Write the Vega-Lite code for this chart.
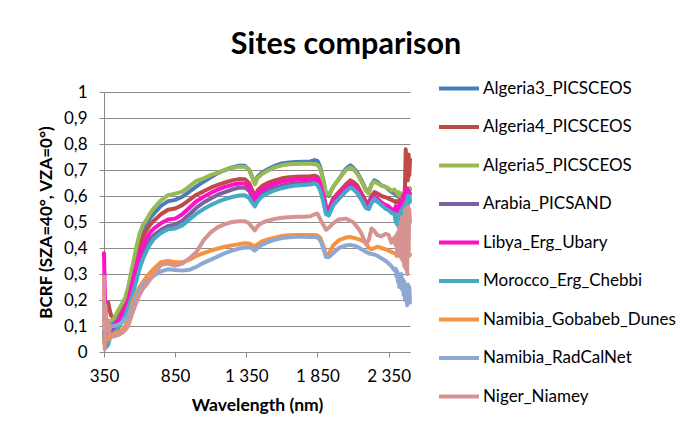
{
  "$schema": "https://vega.github.io/schema/vega-lite/v6.json",
  "width": 306,
  "height": 260,
  "autosize": {"type": "none"},
  "padding": {"left": 104, "top": 92, "right": 279, "bottom": 80},
  "background": "white",
  "title": {"text": "Sites comparison", "font": "Lato", "fontSize": 30.5, "fontWeight": "bold", "color": "#000000", "anchor": "middle", "frame": "group", "dx": 89, "dy": 28, "offset": 10, "baseline": "alphabetic"},
  "datasets": {
    "sites": [
      {"key": "a3", "site": "Algeria3_PICSCEOS"},
      {"key": "a4", "site": "Algeria4_PICSCEOS"},
      {"key": "a5", "site": "Algeria5_PICSCEOS"},
      {"key": "ar", "site": "Arabia_PICSAND"},
      {"key": "ly", "site": "Libya_Erg_Ubary"},
      {"key": "mo", "site": "Morocco_Erg_Chebbi"},
      {"key": "ng", "site": "Namibia_Gobabeb_Dunes"},
      {"key": "nr", "site": "Namibia_RadCalNet"},
      {"key": "ni", "site": "Niger_Niamey"}
    ],
    "spectra": [
      {"w":350,"a3":0.08,"a4":0.12,"a5":0.10,"ar":0.07,"ly":0.38,"mo":0.06,"ng":0.05,"nr":0.20,"ni":0.29},
      {"w":355,"a3":0.07,"a4":0.14,"a5":0.09,"ar":0.05,"ly":0.25,"mo":0.03,"ng":0.03,"nr":0.10,"ni":0.01},
      {"w":360,"a3":0.09,"a4":0.15,"a5":0.10,"ar":0.06,"ly":0.15,"mo":0.04,"ng":0.06,"nr":0.14,"ni":0.18},
      {"w":370,"a3":0.10,"a4":0.18,"a5":0.11,"ar":0.07,"ly":0.11,"mo":0.02,"ng":0.05,"nr":0.08,"ni":0.10},
      {"w":380,"a3":0.10,"a4":0.19,"a5":0.11,"ar":0.08,"ly":0.10,"mo":0.03,"ng":0.06,"nr":0.10,"ni":0.12},
      {"w":390,"a3":0.11,"a4":0.16,"a5":0.12,"ar":0.08,"ly":0.09,"mo":0.05,"ng":0.05,"nr":0.09,"ni":0.07},
      {"w":400,"a3":0.11,"a4":0.14,"a5":0.12,"ar":0.08,"ly":0.09,"mo":0.06,"ng":0.06,"nr":0.10,"ni":0.06},
      {"w":420,"a3":0.12,"a4":0.13,"a5":0.13,"ar":0.09,"ly":0.10,"mo":0.07,"ng":0.07,"nr":0.10,"ni":0.06},
      {"w":450,"a3":0.15,"a4":0.15,"a5":0.16,"ar":0.11,"ly":0.12,"mo":0.09,"ng":0.075,"nr":0.105,"ni":0.065},
      {"w":480,"a3":0.18,"a4":0.17,"a5":0.19,"ar":0.13,"ly":0.15,"mo":0.12,"ng":0.085,"nr":0.115,"ni":0.075},
      {"w":500,"a3":0.20,"a4":0.19,"a5":0.21,"ar":0.15,"ly":0.17,"mo":0.14,"ng":0.10,"nr":0.125,"ni":0.085},
      {"w":520,"a3":0.24,"a4":0.23,"a5":0.25,"ar":0.19,"ly":0.20,"mo":0.17,"ng":0.13,"nr":0.14,"ni":0.10},
      {"w":550,"a3":0.31,"a4":0.30,"a5":0.33,"ar":0.24,"ly":0.27,"mo":0.22,"ng":0.19,"nr":0.17,"ni":0.15},
      {"w":580,"a3":0.39,"a4":0.37,"a5":0.41,"ar":0.31,"ly":0.34,"mo":0.28,"ng":0.23,"nr":0.215,"ni":0.195},
      {"w":600,"a3":0.43,"a4":0.41,"a5":0.455,"ar":0.34,"ly":0.375,"mo":0.32,"ng":0.25,"nr":0.24,"ni":0.22},
      {"w":625,"a3":0.47,"a4":0.445,"a5":0.49,"ar":0.38,"ly":0.41,"mo":0.36,"ng":0.27,"nr":0.26,"ni":0.245},
      {"w":650,"a3":0.495,"a4":0.47,"a5":0.51,"ar":0.41,"ly":0.44,"mo":0.39,"ng":0.29,"nr":0.272,"ni":0.26},
      {"w":675,"a3":0.515,"a4":0.49,"a5":0.535,"ar":0.435,"ly":0.46,"mo":0.415,"ng":0.305,"nr":0.283,"ni":0.28},
      {"w":700,"a3":0.532,"a4":0.505,"a5":0.553,"ar":0.45,"ly":0.475,"mo":0.435,"ng":0.32,"nr":0.293,"ni":0.30},
      {"w":750,"a3":0.562,"a4":0.53,"a5":0.583,"ar":0.47,"ly":0.495,"mo":0.458,"ng":0.345,"nr":0.31,"ni":0.335},
      {"w":800,"a3":0.58,"a4":0.547,"a5":0.603,"ar":0.485,"ly":0.51,"mo":0.472,"ng":0.35,"nr":0.318,"ni":0.34},
      {"w":850,"a3":0.585,"a4":0.552,"a5":0.609,"ar":0.49,"ly":0.513,"mo":0.475,"ng":0.345,"nr":0.315,"ni":0.332},
      {"w":900,"a3":0.597,"a4":0.565,"a5":0.617,"ar":0.505,"ly":0.53,"mo":0.487,"ng":0.345,"nr":0.313,"ni":0.34},
      {"w":950,"a3":0.617,"a4":0.585,"a5":0.637,"ar":0.53,"ly":0.555,"mo":0.51,"ng":0.355,"nr":0.316,"ni":0.36},
      {"w":1000,"a3":0.637,"a4":0.605,"a5":0.658,"ar":0.555,"ly":0.58,"mo":0.532,"ng":0.37,"nr":0.328,"ni":0.385},
      {"w":1050,"a3":0.655,"a4":0.618,"a5":0.668,"ar":0.575,"ly":0.597,"mo":0.55,"ng":0.38,"nr":0.343,"ni":0.43},
      {"w":1100,"a3":0.672,"a4":0.632,"a5":0.68,"ar":0.59,"ly":0.612,"mo":0.565,"ng":0.39,"nr":0.355,"ni":0.46},
      {"w":1150,"a3":0.688,"a4":0.643,"a5":0.69,"ar":0.605,"ly":0.625,"mo":0.578,"ng":0.398,"nr":0.368,"ni":0.48},
      {"w":1200,"a3":0.70,"a4":0.652,"a5":0.70,"ar":0.615,"ly":0.635,"mo":0.588,"ng":0.405,"nr":0.38,"ni":0.492},
      {"w":1250,"a3":0.71,"a4":0.66,"a5":0.708,"ar":0.625,"ly":0.643,"mo":0.596,"ng":0.41,"nr":0.39,"ni":0.50},
      {"w":1300,"a3":0.717,"a4":0.665,"a5":0.713,"ar":0.632,"ly":0.648,"mo":0.602,"ng":0.415,"nr":0.398,"ni":0.503},
      {"w":1340,"a3":0.716,"a4":0.664,"a5":0.712,"ar":0.632,"ly":0.648,"mo":0.603,"ng":0.418,"nr":0.402,"ni":0.503},
      {"w":1370,"a3":0.70,"a4":0.65,"a5":0.70,"ar":0.62,"ly":0.635,"mo":0.592,"ng":0.417,"nr":0.403,"ni":0.495},
      {"w":1390,"a3":0.675,"a4":0.625,"a5":0.675,"ar":0.595,"ly":0.61,"mo":0.575,"ng":0.412,"nr":0.398,"ni":0.48},
      {"w":1410,"a3":0.648,"a4":0.598,"a5":0.645,"ar":0.57,"ly":0.585,"mo":0.56,"ng":0.406,"nr":0.39,"ni":0.468},
      {"w":1430,"a3":0.675,"a4":0.622,"a5":0.67,"ar":0.595,"ly":0.61,"mo":0.58,"ng":0.415,"nr":0.40,"ni":0.485},
      {"w":1460,"a3":0.69,"a4":0.638,"a5":0.685,"ar":0.61,"ly":0.625,"mo":0.598,"ng":0.425,"nr":0.412,"ni":0.497},
      {"w":1500,"a3":0.703,"a4":0.65,"a5":0.697,"ar":0.622,"ly":0.637,"mo":0.61,"ng":0.433,"nr":0.422,"ni":0.505},
      {"w":1550,"a3":0.716,"a4":0.66,"a5":0.71,"ar":0.633,"ly":0.648,"mo":0.622,"ng":0.44,"nr":0.432,"ni":0.512},
      {"w":1600,"a3":0.725,"a4":0.668,"a5":0.718,"ar":0.64,"ly":0.655,"mo":0.63,"ng":0.446,"nr":0.438,"ni":0.516},
      {"w":1650,"a3":0.729,"a4":0.672,"a5":0.722,"ar":0.645,"ly":0.66,"mo":0.636,"ng":0.449,"nr":0.441,"ni":0.518},
      {"w":1700,"a3":0.731,"a4":0.674,"a5":0.723,"ar":0.648,"ly":0.662,"mo":0.64,"ng":0.45,"nr":0.443,"ni":0.52},
      {"w":1750,"a3":0.732,"a4":0.675,"a5":0.724,"ar":0.65,"ly":0.664,"mo":0.642,"ng":0.45,"nr":0.443,"ni":0.52},
      {"w":1800,"a3":0.733,"a4":0.676,"a5":0.724,"ar":0.652,"ly":0.665,"mo":0.644,"ng":0.45,"nr":0.442,"ni":0.522},
      {"w":1830,"a3":0.738,"a4":0.678,"a5":0.722,"ar":0.655,"ly":0.668,"mo":0.648,"ng":0.45,"nr":0.442,"ni":0.53},
      {"w":1850,"a3":0.735,"a4":0.674,"a5":0.72,"ar":0.652,"ly":0.665,"mo":0.642,"ng":0.448,"nr":0.44,"ni":0.532},
      {"w":1870,"a3":0.71,"a4":0.655,"a5":0.705,"ar":0.63,"ly":0.645,"mo":0.62,"ng":0.44,"nr":0.43,"ni":0.51},
      {"w":1890,"a3":0.665,"a4":0.615,"a5":0.66,"ar":0.59,"ly":0.605,"mo":0.58,"ng":0.41,"nr":0.40,"ni":0.49},
      {"w":1910,"a3":0.605,"a4":0.56,"a5":0.61,"ar":0.535,"ly":0.55,"mo":0.53,"ng":0.375,"nr":0.365,"ni":0.47},
      {"w":1930,"a3":0.60,"a4":0.55,"a5":0.605,"ar":0.53,"ly":0.54,"mo":0.525,"ng":0.378,"nr":0.365,"ni":0.478},
      {"w":1960,"a3":0.635,"a4":0.59,"a5":0.635,"ar":0.565,"ly":0.58,"mo":0.565,"ng":0.41,"nr":0.38,"ni":0.495},
      {"w":2000,"a3":0.665,"a4":0.615,"a5":0.665,"ar":0.59,"ly":0.605,"mo":0.59,"ng":0.43,"nr":0.40,"ni":0.51},
      {"w":2050,"a3":0.705,"a4":0.645,"a5":0.70,"ar":0.62,"ly":0.632,"mo":0.618,"ng":0.44,"nr":0.41,"ni":0.513},
      {"w":2080,"a3":0.718,"a4":0.66,"a5":0.71,"ar":0.632,"ly":0.645,"mo":0.632,"ng":0.442,"nr":0.412,"ni":0.505},
      {"w":2100,"a3":0.71,"a4":0.655,"a5":0.705,"ar":0.628,"ly":0.64,"mo":0.628,"ng":0.44,"nr":0.41,"ni":0.50},
      {"w":2130,"a3":0.69,"a4":0.64,"a5":0.685,"ar":0.612,"ly":0.625,"mo":0.612,"ng":0.435,"nr":0.405,"ni":0.48},
      {"w":2160,"a3":0.66,"a4":0.61,"a5":0.655,"ar":0.585,"ly":0.595,"mo":0.585,"ng":0.43,"nr":0.395,"ni":0.455},
      {"w":2190,"a3":0.625,"a4":0.58,"a5":0.62,"ar":0.555,"ly":0.565,"mo":0.555,"ng":0.42,"nr":0.385,"ni":0.415},
      {"w":2210,"a3":0.615,"a4":0.575,"a5":0.61,"ar":0.55,"ly":0.56,"mo":0.55,"ng":0.40,"nr":0.38,"ni":0.43},
      {"w":2230,"a3":0.645,"a4":0.60,"a5":0.645,"ar":0.575,"ly":0.59,"mo":0.575,"ng":0.395,"nr":0.377,"ni":0.475},
      {"w":2250,"a3":0.66,"a4":0.615,"a5":0.655,"ar":0.585,"ly":0.60,"mo":0.59,"ng":0.40,"nr":0.375,"ni":0.465},
      {"w":2270,"a3":0.655,"a4":0.61,"a5":0.65,"ar":0.58,"ly":0.59,"mo":0.58,"ng":0.405,"nr":0.37,"ni":0.45},
      {"w":2300,"a3":0.64,"a4":0.60,"a5":0.64,"ar":0.565,"ly":0.575,"mo":0.565,"ng":0.40,"nr":0.36,"ni":0.445},
      {"w":2330,"a3":0.635,"a4":0.595,"a5":0.635,"ar":0.555,"ly":0.565,"mo":0.55,"ng":0.395,"nr":0.35,"ni":0.455},
      {"w":2350,"a3":0.625,"a4":0.59,"a5":0.63,"ar":0.55,"ly":0.56,"mo":0.545,"ng":0.39,"nr":0.34,"ni":0.45},
      {"w":2370,"a3":0.615,"a4":0.585,"a5":0.62,"ar":0.54,"ly":0.55,"mo":0.535,"ng":0.385,"nr":0.33,"ni":0.42},
      {"w":2390,"a3":0.61,"a4":0.58,"a5":0.625,"ar":0.535,"ly":0.545,"mo":0.53,"ng":0.38,"nr":0.315,"ni":0.44},
      {"w":2400,"a3":0.605,"a4":0.575,"a5":0.615,"ar":0.53,"ly":0.56,"mo":0.50,"ng":0.378,"nr":0.32,"ni":0.41},
      {"w":2405,"a3":0.61,"a4":0.58,"a5":0.61,"ar":0.52,"ly":0.52,"mo":0.53,"ng":0.37,"nr":0.29,"ni":0.45},
      {"w":2410,"a3":0.60,"a4":0.575,"a5":0.615,"ar":0.515,"ly":0.55,"mo":0.49,"ng":0.38,"nr":0.31,"ni":0.38},
      {"w":2415,"a3":0.605,"a4":0.58,"a5":0.605,"ar":0.51,"ly":0.50,"mo":0.52,"ng":0.37,"nr":0.27,"ni":0.46},
      {"w":2420,"a3":0.60,"a4":0.575,"a5":0.615,"ar":0.52,"ly":0.56,"mo":0.48,"ng":0.375,"nr":0.30,"ni":0.40},
      {"w":2425,"a3":0.61,"a4":0.585,"a5":0.605,"ar":0.525,"ly":0.53,"mo":0.53,"ng":0.37,"nr":0.25,"ni":0.48},
      {"w":2430,"a3":0.595,"a4":0.57,"a5":0.60,"ar":0.53,"ly":0.57,"mo":0.50,"ng":0.38,"nr":0.29,"ni":0.37},
      {"w":2435,"a3":0.60,"a4":0.58,"a5":0.61,"ar":0.535,"ly":0.54,"mo":0.54,"ng":0.37,"nr":0.26,"ni":0.50},
      {"w":2440,"a3":0.60,"a4":0.58,"a5":0.61,"ar":0.54,"ly":0.58,"mo":0.50,"ng":0.375,"nr":0.30,"ni":0.36},
      {"w":2445,"a3":0.595,"a4":0.575,"a5":0.605,"ar":0.545,"ly":0.56,"mo":0.55,"ng":0.37,"nr":0.24,"ni":0.52},
      {"w":2450,"a3":0.60,"a4":0.575,"a5":0.605,"ar":0.55,"ly":0.60,"mo":0.52,"ng":0.38,"nr":0.28,"ni":0.35},
      {"w":2455,"a3":0.60,"a4":0.58,"a5":0.60,"ar":0.55,"ly":0.57,"mo":0.56,"ng":0.37,"nr":0.22,"ni":0.50},
      {"w":2460,"a3":0.60,"a4":0.60,"a5":0.60,"ar":0.56,"ly":0.61,"mo":0.53,"ng":0.375,"nr":0.27,"ni":0.33},
      {"w":2465,"a3":0.605,"a4":0.64,"a5":0.61,"ar":0.56,"ly":0.58,"mo":0.57,"ng":0.37,"nr":0.20,"ni":0.55},
      {"w":2470,"a3":0.61,"a4":0.78,"a5":0.61,"ar":0.57,"ly":0.62,"mo":0.54,"ng":0.38,"nr":0.26,"ni":0.32},
      {"w":2475,"a3":0.61,"a4":0.70,"a5":0.615,"ar":0.57,"ly":0.59,"mo":0.58,"ng":0.37,"nr":0.23,"ni":0.54},
      {"w":2480,"a3":0.615,"a4":0.75,"a5":0.615,"ar":0.575,"ly":0.63,"mo":0.56,"ng":0.375,"nr":0.18,"ni":0.30},
      {"w":2485,"a3":0.615,"a4":0.66,"a5":0.62,"ar":0.575,"ly":0.60,"mo":0.60,"ng":0.37,"nr":0.26,"ni":0.56},
      {"w":2490,"a3":0.62,"a4":0.76,"a5":0.625,"ar":0.58,"ly":0.62,"mo":0.57,"ng":0.38,"nr":0.20,"ni":0.38},
      {"w":2495,"a3":0.62,"a4":0.68,"a5":0.625,"ar":0.58,"ly":0.60,"mo":0.60,"ng":0.37,"nr":0.25,"ni":0.55},
      {"w":2500,"a3":0.625,"a4":0.74,"a5":0.63,"ar":0.58,"ly":0.61,"mo":0.58,"ng":0.375,"nr":0.19,"ni":0.50}
    ]
  },
  "data": {"name": "spectra"},
  "transform": [
    {"fold": ["a3", "a4", "a5", "ar", "ly", "mo", "ng", "nr", "ni"], "as": ["key", "bcrf"]},
    {"lookup": "key", "from": {"data": {"name": "sites"}, "key": "key", "fields": ["site"]}}
  ],
  "mark": {"type": "line", "strokeWidth": 4, "strokeJoin": "round", "strokeCap": "round"},
  "encoding": {
    "x": {
      "field": "w", "type": "quantitative",
      "scale": {"domain": [350, 2500], "nice": false, "zero": false},
      "axis": {
        "values": [350, 850, 1350, 1850, 2350],
        "labelExpr": "replace(format(datum.value, ','), ',', ' ')",
        "grid": false, "tickSize": 5, "tickColor": "#8a8a8a", "domainColor": "#8a8a8a",
        "labelFont": "Lato", "labelFontSize": 17, "labelColor": "#000000", "labelPadding": 11,
        "labelFlush": false, "labelOverlap": false,
        "title": "Wavelength (nm)", "titleFont": "Lato", "titleFontSize": 17.5, "titleFontWeight": "bold", "titleColor": "#000000",
        "titleX": 153, "titleY": 53, "titleBaseline": "middle", "titleAlign": "center"
      }
    },
    "y": {
      "field": "bcrf", "type": "quantitative",
      "scale": {"domain": [0, 1], "nice": false},
      "axis": {
        "values": [0, 0.1, 0.2, 0.3, 0.4, 0.5, 0.6, 0.7, 0.8, 0.9, 1],
        "labelExpr": "replace(format(datum.value, '~g'), '.', ',')",
        "grid": true, "gridColor": "#8a8a8a", "tickSize": 5, "tickColor": "#8a8a8a", "domainColor": "#8a8a8a",
        "labelFont": "Lato", "labelFontSize": 17, "labelColor": "#000000", "labelPadding": 12,
        "title": "BCRF (SZA=40°, VZA=0°)", "titleFont": "Lato", "titleFontSize": 17, "titleFontWeight": "bold", "titleColor": "#000000",
        "titleX": -58, "titleY": 130, "titleBaseline": "middle", "titleAlign": "center", "titleAngle": 270
      }
    },
    "color": {
      "field": "site", "type": "nominal",
      "scale": {
        "domain": ["Algeria3_PICSCEOS", "Algeria4_PICSCEOS", "Algeria5_PICSCEOS", "Arabia_PICSAND", "Libya_Erg_Ubary", "Morocco_Erg_Chebbi", "Namibia_Gobabeb_Dunes", "Namibia_RadCalNet", "Niger_Niamey"],
        "range": ["#4A7EBB", "#BE4B48", "#98B954", "#7D60A0", "#FF10C8", "#46AAC5", "#F69240", "#8EA8D4", "#D59391"]
      },
      "legend": {
        "orient": "none", "legendX": 333, "legendY": -25.4, "title": null,
        "symbolType": "stroke", "symbolSize": 1600, "symbolStrokeWidth": 4,
        "labelFont": "Lato", "labelFontSize": 17, "labelColor": "#000000", "labelLimit": 300,
        "rowPadding": 8.5, "labelOffset": 2, "padding": 0, "direction": "vertical"
      }
    }
  },
  "config": {"view": {"stroke": null}, "font": "Lato"}
}
